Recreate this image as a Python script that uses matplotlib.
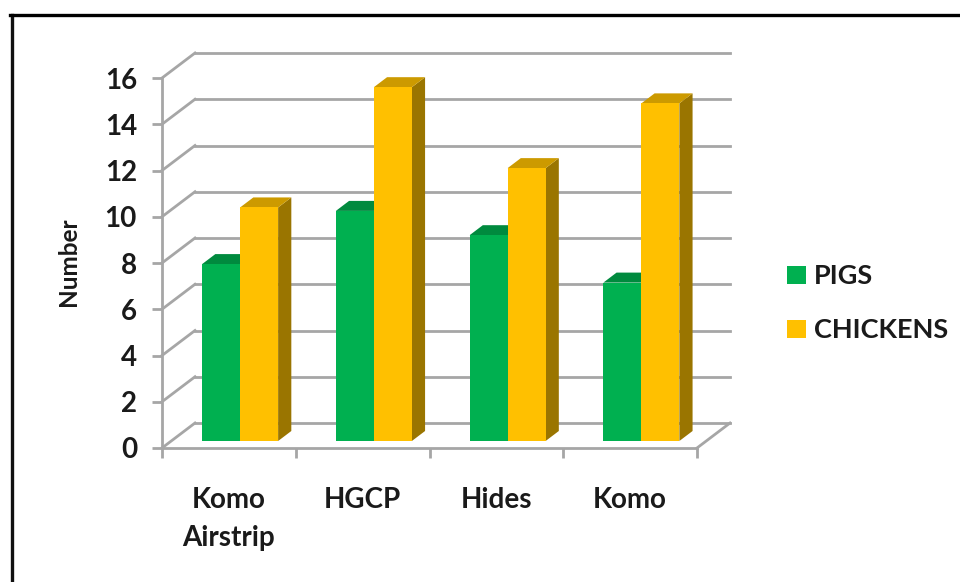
import matplotlib.pyplot as plt
from matplotlib.patches import Polygon, Rectangle
from matplotlib.lines import Line2D

plt.rcParams['font.family'] = ['Lato', 'DejaVu Sans']

categories = ["Komo\nAirstrip", "HGCP", "Hides", "Komo"]
pigs = [7.65, 9.95, 8.9, 6.85]
chickens = [10.1, 15.3, 11.8, 14.6]
y_ticks = [0, 2, 4, 6, 8, 10, 12, 14, 16]

GREEN = "#00B050"
GREEN_TOP = "#008A3E"
YELLOW = "#FFC000"
YELLOW_TOP = "#CC9A00"
YELLOW_SIDE = "#9A7500"
GRID = "#A6A6A6"
TEXT = "#1a1a1a"

W, H = 960, 582
fig = plt.figure(figsize=(W / 100, H / 100), dpi=100)
ax = fig.add_axes([162 / W, (H - 448) / H, 535 / W, 370 / H])
ax.set_xlim(0, 4)
ax.set_ylim(0, 16)

# depth of the fake 3d box in data units
dx = 33 / 133.75
dy = 25 / 23.125


def shear(x, y, d):
    return (x + d * dx, y + d * dy)


# back wall lines and the little diagonals
for v in y_ticks:
    ax.plot([dx, 4 + dx], [v + dy, v + dy], color=GRID, lw=2, clip_on=False, zorder=1)
    ax.plot([0, dx], [v, v + dy], color=GRID, lw=2, clip_on=False, zorder=1)
ax.plot([4, 4 + dx], [0, dy], color=GRID, lw=2, clip_on=False, zorder=1)


def box(x0, x1, h, front, top, side):
    d0, d1 = 0.28, 0.68
    a = shear(x0, 0, d0)
    b = shear(x1, 0, d0)
    c = shear(x1, h, d0)
    e = shear(x0, h, d0)
    ax.add_patch(Polygon([b, shear(x1, 0, d1), shear(x1, h, d1), c],
                         facecolor=side, edgecolor="none", clip_on=False, zorder=3))
    ax.add_patch(Polygon([e, c, shear(x1, h, d1), shear(x0, h, d1)],
                         facecolor=top, edgecolor="none", clip_on=False, zorder=3))
    ax.add_patch(Polygon([a, b, c, e], facecolor=front, edgecolor="none",
                         clip_on=False, zorder=4))


bar_w = 38 / 133.75
for i in range(len(categories)):
    c = i + 0.5 + 0.015
    box(c - bar_w, c, pigs[i], GREEN, GREEN_TOP, GREEN_TOP)
    box(c, c + bar_w, chickens[i], YELLOW, YELLOW_TOP, YELLOW_SIDE)

for s in ["top", "right"]:
    ax.spines[s].set_visible(False)
for s in ["left", "bottom"]:
    ax.spines[s].set_color(GRID)
    ax.spines[s].set_linewidth(2)
    ax.spines[s].set_zorder(2)

ax.set_yticks(y_ticks)
ax.set_xticks(range(5))
ax.set_xticklabels([])
ax.tick_params(axis="both", length=7, width=2, color=GRID)
ax.tick_params(axis="y", pad=11, labelsize=20)
for t in ax.get_yticklabels():
    t.set_fontweight("bold")
    t.set_color(TEXT)

for i, name in enumerate(categories):
    ax.annotate(name, xy=(i + 0.5, 0), xycoords="data", xytext=(0, -39),
                textcoords="offset pixels", ha="center", va="top", fontsize=20,
                fontweight="bold", color=TEXT, linespacing=1.58)

fig.text(68.5 / W, 1 - 262 / H, "Number", rotation=90, ha="center", va="center",
         fontsize=17.5, fontweight="bold", color=TEXT)

# legend by hand, Excel puts it out on the right
for y, color, label in [(275, GREEN, "PIGS"), (329, YELLOW, "CHICKENS")]:
    fig.add_artist(Rectangle((787 / W, 1 - (y + 9) / H), 19 / W, 18 / H,
                             transform=fig.transFigure, facecolor=color, edgecolor="none"))
    fig.text(814 / W, 1 - (y + 1) / H, label, ha="left", va="center", fontsize=19.5,
             fontweight="bold", color=TEXT)

# outer border, only left and top fall inside the picture
fig.add_artist(Line2D([11.5 / W, 11.5 / W], [0, 1 - 15 / H], color="#111111", lw=2.4))
fig.add_artist(Line2D([10 / W, 1], [1 - 15 / H, 1 - 15 / H], color="black", lw=2.4))

fig.savefig("out.png", dpi=100)
